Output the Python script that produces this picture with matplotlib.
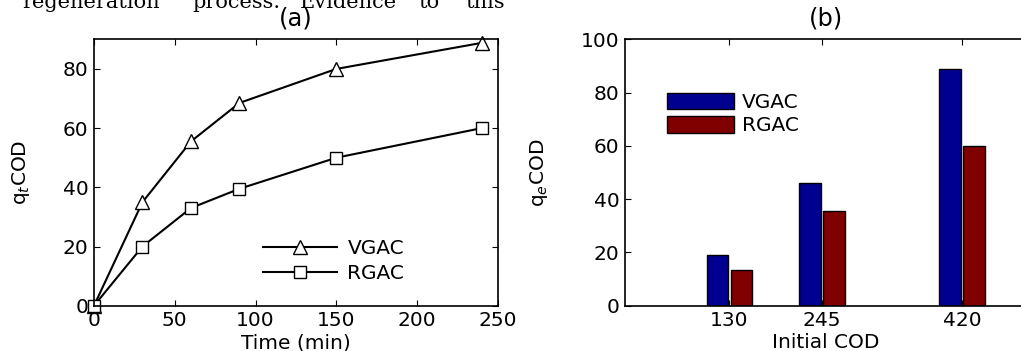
import numpy as np
import matplotlib
matplotlib.use('Agg')
import matplotlib.pyplot as plt

plt.rcParams['font.family'] = 'DejaVu Sans'
plt.rcParams['font.size'] = 14.5

# (a) kinetics
time = [0, 30, 60, 90, 150, 240]
vgac_q = [0, 35, 55.5, 68.5, 80, 88.8]
rgac_q = [0, 20, 33, 39.5, 50, 60]

# (b) capacity vs initial COD
init_cod = [130, 245, 420]
vgac_qe = [19, 46, 89]
rgac_qe = [13.5, 35.5, 60]

fig = plt.figure(figsize=(10.21, 3.51), dpi=100)

# clipped line of body text above the figure
words = ['regeneration', 'process.', 'Evidence', 'to', 'this']
wx = [22, 192, 300, 418, 465]
for w, x in zip(words, wx):
    fig.text(x / 1021, 343 / 351, w, family='DejaVu Serif', fontsize=15,
             ha='left', va='baseline')

ax1 = fig.add_axes([94 / 1021, 45.3 / 351, 404 / 1021, 266.4 / 351])
ax1.plot(time, vgac_q, 'k-', marker='^', mfc='white', mec='k', ms=10,
         lw=1.5, clip_on=False, label='VGAC')
ax1.plot(time, rgac_q, 'k-', marker='s', mfc='white', mec='k', ms=9,
         lw=1.5, clip_on=False, label='RGAC')
ax1.set_xlim(0, 250)
ax1.set_ylim(0, 90)
ax1.set_xticks([0, 50, 100, 150, 200, 250])
ax1.set_yticks([0, 20, 40, 60, 80])
ax1.set_xlabel('Time (min)', labelpad=2)
ax1.set_ylabel('q$_t$COD', labelpad=22)
ax1.set_title('(a)', pad=10)
ax1.legend(loc='lower left', bbox_to_anchor=(0.393, 0.048), frameon=False,
           handlelength=3.7, handletextpad=0.5, labelspacing=0.3, borderpad=0)

ax2 = fig.add_axes([625 / 1021, 45.3 / 351, 401.5 / 1021, 266.4 / 351])
w = 27
x = np.array(init_cod)
ax2.bar(x - 15, vgac_qe, width=w, color='#000090', edgecolor='k', lw=1, label='VGAC')
ax2.bar(x + 15, rgac_qe, width=w, color='#800000', edgecolor='k', lw=1, label='RGAC')
ax2.set_xlim(0, 500)
ax2.set_ylim(0, 100)
ax2.set_xticks(init_cod)
ax2.set_yticks([0, 20, 40, 60, 80, 100])
ax2.set_xlabel('Initial COD', labelpad=2)
ax2.set_ylabel('q$_e$COD', labelpad=22)
ax2.set_title('(b)', pad=10)
ax2.legend(loc='upper left', bbox_to_anchor=(0.08, 0.838), frameon=False,
           handlelength=3.3, handleheight=0.9, handletextpad=0.4,
           labelspacing=0.2, borderpad=0)

for ax in (ax1, ax2):
    ax.tick_params(direction='in', length=4, top=True, right=True, pad=4)
    for s in ax.spines.values():
        s.set_linewidth(1.2)

fig.savefig('out.png', dpi=100)
